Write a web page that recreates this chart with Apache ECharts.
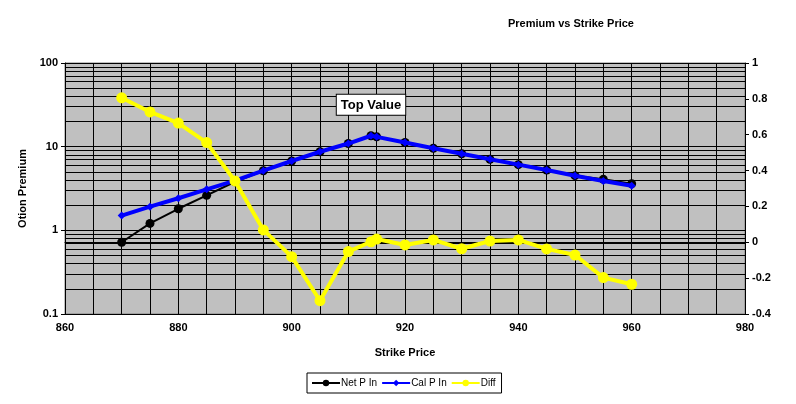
<!DOCTYPE html>
<html><head><meta charset="utf-8">
<script src="https://cdn.jsdelivr.net/npm/echarts@6/dist/echarts.min.js"></script>
<style>html,body{margin:0;padding:0;background:#fff}#c{width:796px;height:404px}</style>
</head><body><div id="c"></div>
<script>
var strikes = [870,875,880,885,890,895,900,905,910,914,915,920,925,930,935,940,945,950,955,960];
var netP = [0.72,1.21,1.81,2.62,3.81,5.16,6.74,8.7,10.9,13.5,13.1,11.2,9.56,8.24,7.06,6.1,5.26,4.5,4.07,3.6];
var calP = [1.5,1.92,2.42,3.09,3.92,5.16,6.74,8.7,10.9,13.5,13.1,11.2,9.56,8.24,7.06,6.1,5.26,4.5,3.89,3.41];
var diff = [0.806,0.727,0.665,0.556,0.342,0.069,-0.080,-0.326,-0.052,0.003,0.018,-0.015,0.013,-0.036,0.007,0.013,-0.037,-0.071,-0.197,-0.234];
var topIndex = 9;
var decades = [0.1,1,10];

var font = 'Liberation Sans, Arial, sans-serif';
function pairs(ys){ return strikes.map(function(x,i){ return [x, ys[i]]; }); }
var minorLines = [];
decades.forEach(function(d){ for(var k=2;k<=9;k++){ minorLines.push({yAxis: +(d*k).toPrecision(3)}); } });

var calData = pairs(calP).map(function(p,i){
  if(i===topIndex){
    return {value:p, label:{show:true, position:'top', distance:17, formatter:'Top Value',
      backgroundColor:'#fff', borderColor:'#000', borderWidth:1, padding:[4,4,3,4],
      color:'#000', fontWeight:'bold', fontSize:13, fontFamily:font}};
  }
  return p;
});

var chart = echarts.init(document.getElementById('c'), null, {renderer:'canvas'});
chart.setOption({
  animation:false,
  title:{text:'Premium vs Strike Price', left:503, top:13,
    textStyle:{fontSize:11, fontWeight:'bold', color:'#000', fontFamily:font}},
  legend:{left:307, top:373, orient:'horizontal', borderColor:'#000', borderWidth:1,
    padding:[5,6,5,4], itemGap:4, itemWidth:28, itemHeight:8,
    textStyle:{fontSize:10, color:'#000', fontFamily:font, padding:[0,0,0,-4]},
    data:['Net P In','Cal P In','Diff']},
  grid:{left:65, right:51, top:63, bottom:90, show:true, backgroundColor:'#c0c0c0', borderColor:'#808080', borderWidth:1},
  xAxis:{type:'value', min:860, max:980, interval:20,
    name:'Strike Price', nameLocation:'middle', nameGap:33,
    nameTextStyle:{fontSize:11, fontWeight:'bold', color:'#000', fontFamily:font},
    axisLine:{show:true, lineStyle:{color:'#000'}},
    axisTick:{show:true, inside:false, length:4, lineStyle:{color:'#000'}},
    axisLabel:{fontSize:11, fontWeight:'bold', color:'#000', fontFamily:font, margin:8},
    splitLine:{show:true, lineStyle:{color:'#000', width:1}},
    minorTick:{show:false, splitNumber:4},
    minorSplitLine:{show:true, lineStyle:{color:'#000', width:1}}},
  yAxis:[
    {type:'log', logBase:10, min:0.1, max:100,
     name:'Otion Premium', nameLocation:'middle', nameGap:36, nameRotate:90,
     nameTextStyle:{fontSize:11, fontWeight:'bold', color:'#000', fontFamily:font},
     axisLine:{show:true, lineStyle:{color:'#000'}},
     axisTick:{show:true, length:4, lineStyle:{color:'#000'}},
     axisLabel:{fontSize:11, fontWeight:'bold', color:'#000', fontFamily:font, margin:7},
     splitLine:{show:true, lineStyle:{color:'#000', width:1}}},
    {type:'value', min:-0.4, max:1, interval:0.2, position:'right',
     axisLine:{show:true, lineStyle:{color:'#000'}},
     axisTick:{show:true, length:4, lineStyle:{color:'#000'}},
     axisLabel:{fontSize:11, fontWeight:'bold', color:'#000', fontFamily:font, margin:7},
     splitLine:{show:false}}
  ],
  series:[
    {name:'Net P In', type:'line', yAxisIndex:0, data:pairs(netP), z:2,
     symbol:'circle', symbolSize:9, itemStyle:{color:'#000'}, lineStyle:{color:'#000', width:2},
     markLine:{silent:true, symbol:'none', label:{show:false}, animation:false,
       lineStyle:{color:'#000', width:1, type:'solid'}, data:minorLines, z:1}},
    {name:'Cal P In', type:'line', yAxisIndex:0, data:calData, z:3,
     symbol:'diamond', symbolSize:8, itemStyle:{color:'#0000ff'}, lineStyle:{color:'#0000ff', width:4}},
    {name:'Diff', type:'line', yAxisIndex:1, data:pairs(diff), z:4,
     symbol:'circle', symbolSize:11, itemStyle:{color:'#ffff00'}, lineStyle:{color:'#ffff00', width:4}}
  ]
});
</script></body></html>
